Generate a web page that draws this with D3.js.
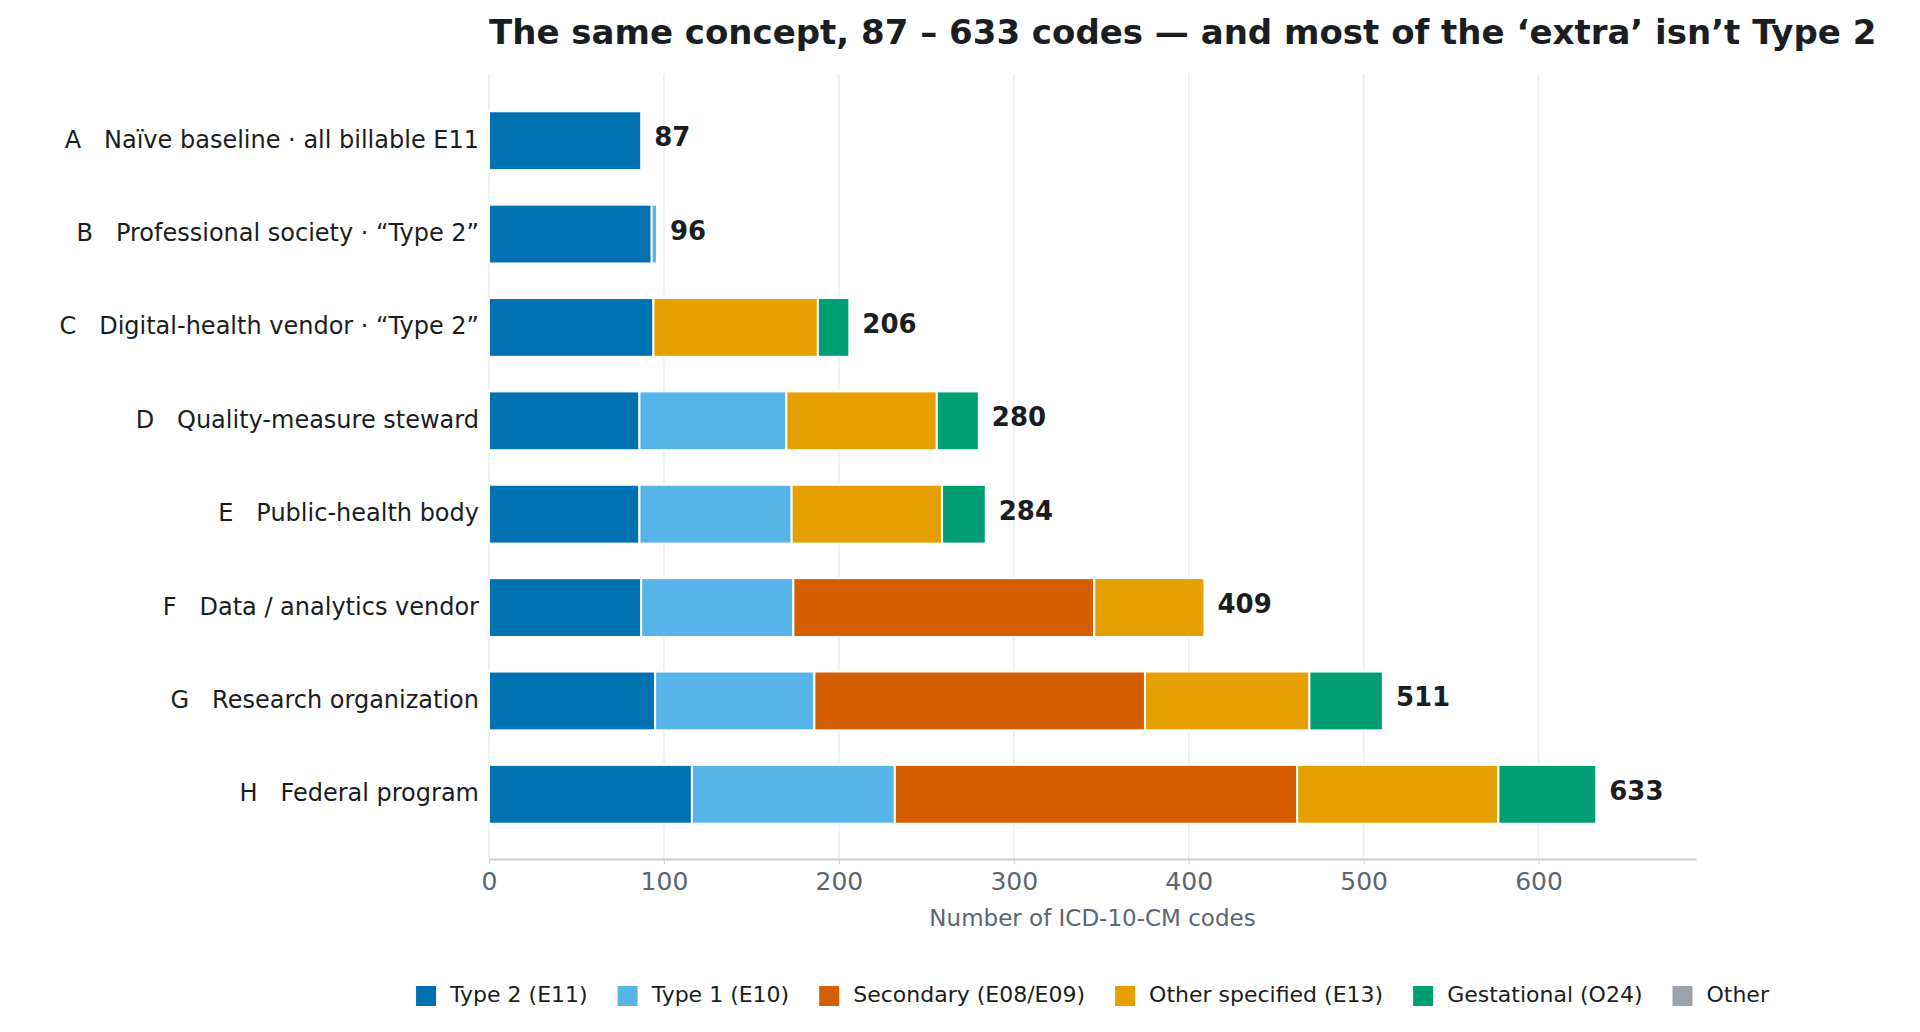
<!DOCTYPE html>
<html>
<head>
<meta charset="utf-8">
<script src="https://cdn.jsdelivr.net/npm/d3@7"></script>
<style>
  body { margin: 0; background: #fff; }
  text { font-family: "DejaVu Sans", sans-serif; }
</style>
</head>
<body>
<svg id="chart" width="1920" height="1032"></svg>
<script>
const categories = [
  "A   Naïve baseline · all billable E11",
  "B   Professional society · “Type 2”",
  "C   Digital-health vendor · “Type 2”",
  "D   Quality-measure steward",
  "E   Public-health body",
  "F   Data / analytics vendor",
  "G   Research organization",
  "H   Federal program"
];
const seriesNames = ["Type 2 (E11)", "Type 1 (E10)", "Secondary (E08/E09)", "Other specified (E13)", "Gestational (O24)", "Other"];
const colors = ["#0072B2", "#56B4E9", "#D55E00", "#E69F00", "#009E73", "#9AA3AC"];
const type2 = [87, 93, 94, 86, 86, 87, 95, 116];
const type1 = [0, 3, 0, 84, 87, 87, 91, 116];
const secondary = [0, 0, 0, 0, 0, 172, 189, 230];
const otherSpecified = [0, 0, 94, 86, 86, 63, 94, 115];
const gestational = [0, 0, 18, 24, 25, 0, 42, 56];
const other = [0, 0, 0, 0, 0, 0, 0, 0];
const xTicks = [0, 100, 200, 300, 400, 500, 600];

const rows = categories.map((c, i) => ({
  cat: c,
  v: [type2[i], type1[i], secondary[i], otherSpecified[i], gestational[i], other[i]]
}));
rows.forEach(r => r.total = d3.sum(r.v));

const svg = d3.select("#chart");
const plotLeft = 489, plotRight = 1696, plotTop = 74, plotBottom = 859;

const x = d3.scaleLinear().domain([0, 690]).range([plotLeft, plotRight]);
const y = d3.scaleBand().domain(categories).range([94, 841]).paddingInner(0.37).paddingOuter(0.185);

// gridlines
svg.selectAll(".grid").data(xTicks).enter().append("line")
  .attr("x1", d => x(d)).attr("x2", d => x(d))
  .attr("y1", plotTop).attr("y2", plotBottom)
  .attr("stroke", "#e9edf1").attr("stroke-width", 1.5);

// stacked bars
rows.forEach(r => {
  let acc = 0;
  r.v.forEach((val, k) => {
    if (val > 0) {
      svg.append("rect")
        .attr("x", x(acc)).attr("y", y(r.cat))
        .attr("width", x(acc + val) - x(acc)).attr("height", y.bandwidth())
        .attr("fill", colors[k]).attr("stroke", "#fff").attr("stroke-width", 2);
    }
    acc += val;
  });
  svg.append("text")
    .attr("x", x(r.total) + 13).attr("y", y(r.cat) + y.bandwidth() / 2 - 2)
    .attr("dominant-baseline", "middle")
    .attr("font-size", 26).attr("font-weight", "bold").attr("fill", "#1a1d21")
    .text(r.total);
});

// category labels
svg.selectAll(".cat").data(categories).enter().append("text")
  .attr("x", 479).attr("y", d => y(d) + y.bandwidth() / 2)
  .attr("text-anchor", "end").attr("dominant-baseline", "middle")
  .attr("font-size", 24).attr("fill", "#1a1d21")
  .style("white-space", "pre")
  .text(d => d);

// x axis
const ax = svg.append("g").attr("transform", `translate(0,${plotBottom})`)
  .call(d3.axisBottom(x).tickValues(xTicks).tickSize(5).tickSizeOuter(0));
ax.select(".domain").attr("stroke", "#c9d0d6").attr("stroke-width", 2);
ax.selectAll(".tick line").attr("stroke", "#c9d0d6");
ax.selectAll(".tick text").attr("font-size", 25).attr("fill", "#5b6670").attr("dy", "0.9em")
  .style("font-family", "DejaVu Sans");

svg.append("text")
  .attr("x", (plotLeft + plotRight) / 2).attr("y", 926)
  .attr("text-anchor", "middle").attr("font-size", 23).attr("fill", "#5b6670")
  .text("Number of ICD-10-CM codes");

// title
svg.append("text")
  .attr("x", plotLeft).attr("y", 44)
  .attr("font-size", 34).attr("font-weight", "bold").attr("fill", "#1a1d21")
  .text("The same concept, 87 – 633 codes — and most of the ‘extra’ isn’t Type 2");

// legend
const legend = svg.append("g");
let lx = 0;
seriesNames.forEach((s, i) => {
  const g = legend.append("g").attr("transform", `translate(${lx},0)`);
  g.append("rect").attr("x", 0).attr("y", -10).attr("width", 20).attr("height", 20).attr("fill", colors[i]);
  const t = g.append("text").attr("x", 34).attr("y", 0).attr("dominant-baseline", "middle")
    .attr("font-size", 22).attr("fill", "#1a1d21").text(s);
  lx += 34 + t.node().getComputedTextLength() + 30;
});
lx -= 30;
legend.attr("transform", `translate(${(plotLeft + plotRight) / 2 - lx / 2},996)`);
</script>
</body>
</html>
